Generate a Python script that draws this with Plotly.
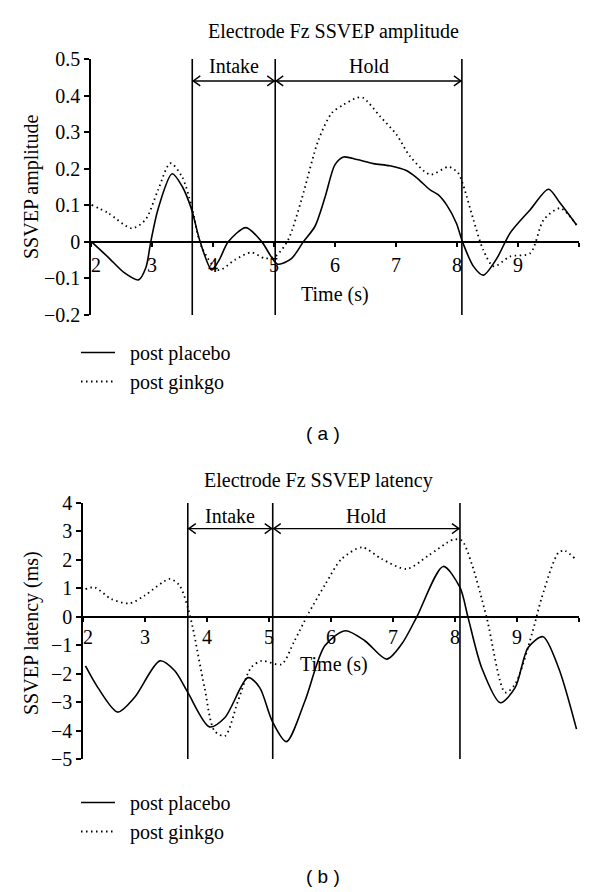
import plotly.graph_objects as go

# ---------------- data ----------------
# (a) SSVEP amplitude, electrode Fz
amp_placebo_t = [2.01, 2.30, 2.55, 2.78, 2.90, 2.98, 3.10, 3.33, 3.50, 3.65, 3.79, 3.98, 4.10, 4.25, 4.54,
                 4.80, 5.06, 5.29, 5.48, 5.67, 5.84, 6.00, 6.14, 6.36, 6.63, 6.90, 7.17, 7.34, 7.56, 7.69,
                 7.83, 7.99, 8.09, 8.27, 8.43, 8.65, 8.87, 9.20, 9.50, 9.69, 9.96]
amp_placebo_v = [0.000, -0.045, -0.085, -0.104, -0.070, 0.000, 0.090, 0.186, 0.150, 0.088, 0.000, -0.077,
                 -0.050, 0.000, 0.039, 0.000, -0.061, -0.045, 0.000, 0.042, 0.124, 0.211, 0.232, 0.225,
                 0.214, 0.208, 0.195, 0.175, 0.142, 0.129, 0.101, 0.051, 0.000, -0.067, -0.091, -0.046,
                 0.024, 0.088, 0.144, 0.106, 0.046]
amp_ginkgo_t = [2.01, 2.28, 2.67, 2.89, 3.10, 3.30, 3.49, 3.65, 3.81, 4.09, 4.36, 4.63, 4.85, 5.02, 5.23,
                5.45, 5.73, 5.95, 6.14, 6.36, 6.46, 6.74, 7.01, 7.23, 7.56, 7.86, 8.02, 8.10, 8.27, 8.43,
                8.60, 8.87, 9.20, 9.42, 9.69, 9.96]
amp_ginkgo_v = [0.101, 0.079, 0.037, 0.060, 0.142, 0.215, 0.179, 0.097, -0.013, -0.077, -0.049, -0.029,
                -0.045, -0.040, 0.005, 0.115, 0.279, 0.353, 0.375, 0.394, 0.394, 0.343, 0.293, 0.234,
                0.184, 0.205, 0.188, 0.156, 0.060, -0.022, -0.067, -0.040, -0.031, 0.060, 0.092, 0.046]

# (b) SSVEP latency (ms), electrode Fz
lat_placebo_t = [2.04, 2.24, 2.56, 2.83, 3.24, 3.48, 3.69, 4.04, 4.29, 4.66, 4.85, 5.05, 5.28, 5.58, 5.90,
                 6.23, 6.55, 6.90, 7.14, 7.38, 7.81, 8.08, 8.21, 8.43, 8.73, 8.97, 9.18, 9.42, 9.67, 9.96]
lat_placebo_v = [-1.73, -2.49, -3.35, -2.84, -1.55, -1.90, -2.66, -3.87, -3.54, -2.14, -2.49, -3.66, -4.39,
                 -2.96, -1.02, -0.49, -0.85, -1.49, -0.96, -0.02, 1.77, 1.03, -0.02, -1.79, -3.02, -2.49,
                 -1.08, -0.70, -1.79, -3.95]
lat_ginkgo_t = [2.04, 2.19, 2.46, 2.75, 2.99, 3.40, 3.56, 3.69, 3.77, 3.96, 4.12, 4.29, 4.50, 4.71, 4.88,
                5.20, 5.41, 5.63, 5.91, 6.17, 6.50, 6.82, 7.22, 7.57, 7.97, 8.11, 8.27, 8.51, 8.81, 8.97,
                9.24, 9.40, 9.67, 9.77, 9.94]
lat_ginkgo_v = [0.97, 1.03, 0.62, 0.47, 0.74, 1.33, 1.09, 0.33, -0.38, -2.49, -4.01, -4.19, -2.96, -1.79,
                -1.55, -1.67, -0.85, 0.09, 1.15, 2.03, 2.44, 2.03, 1.68, 2.15, 2.71, 2.68, 1.86, -0.02,
                -2.66, -2.37, -0.61, 0.68, 2.26, 2.32, 2.03]

x_ticks = [2, 3, 4, 5, 6, 7, 8, 9, 10]
x_tick_labels = ["2", "3", "4", "5", "6", "7", "8", "9", ""]
amp_y_ticks = [-0.2, -0.1, 0, 0.1, 0.2, 0.3, 0.4, 0.5]
lat_y_ticks = [-5, -4, -3, -2, -1, 0, 1, 2, 3, 4]

boundaries_a = [3.66, 5.02, 8.08]
boundaries_b = [3.69, 5.06, 8.08]
phase_labels = ["Intake", "Hold"]
arrow_level_a, label_level_a = 0.44, 0.482
arrow_level_b, label_level_b = 3.1, 3.56

series_names = ["post placebo", "post ginkgo"]

# ---------------- figure ----------------
W, H = 600, 892
SERIF = "Liberation Serif, Times New Roman, serif"
FS = 20
LEGEND_PAD = "\u00a0\u00a0"   # small gap between legend sample and label

def px_x(p):
    return p / W

def px_y(p):
    return 1 - p / H

fig = go.Figure()

solid = dict(color="black", width=1.6, shape="spline", smoothing=0.8)
dotted = dict(color="black", width=1.8, dash="1.5px,3.5px", shape="spline", smoothing=0.8)

fig.add_trace(go.Scatter(x=amp_placebo_t, y=amp_placebo_v, mode="lines", line=solid,
                         name=LEGEND_PAD + series_names[0], xaxis="x", yaxis="y", legend="legend"))
fig.add_trace(go.Scatter(x=amp_ginkgo_t, y=amp_ginkgo_v, mode="lines", line=dotted,
                         name=LEGEND_PAD + series_names[1], xaxis="x", yaxis="y", legend="legend"))
fig.add_trace(go.Scatter(x=lat_placebo_t, y=lat_placebo_v, mode="lines", line=solid,
                         name=LEGEND_PAD + series_names[0], xaxis="x2", yaxis="y2", legend="legend2"))
fig.add_trace(go.Scatter(x=lat_ginkgo_t, y=lat_ginkgo_v, mode="lines", line=dotted,
                         name=LEGEND_PAD + series_names[1], xaxis="x2", yaxis="y2", legend="legend2"))

# domains (pixel boxes of the two plots)
ya_dom = [px_y(315), px_y(59)]
yb_dom = [px_y(759), px_y(503)]
xa_dom = [px_x(91), px_x(579)]
xb_dom = [px_x(83), px_x(579)]

amp_range = [-0.2, 0.5]
lat_range = [-5, 4]

def zero_pos(dom, rng):
    return dom[0] + (0 - rng[0]) / (rng[1] - rng[0]) * (dom[1] - dom[0])

xaxis_common = dict(range=[2, 10], tickmode="array", tickvals=x_ticks, showticklabels=False,
                    ticks="outside", ticklen=4, tickwidth=1.5, tickcolor="black",
                    showline=True, linecolor="black", linewidth=1.6, showgrid=False,
                    zeroline=False, anchor="free", automargin=False)
yaxis_common = dict(ticks="outside", ticklen=5, tickwidth=1.5, tickcolor="black",
                    showline=True, linecolor="black", linewidth=1.6, showgrid=False,
                    zeroline=False, tickfont=dict(family=SERIF, size=FS, color="black"),
                    tickmode="array", automargin=False)

def fmt(v):
    return ("\u2212" if v < 0 else "") + f"{abs(v):g}"

legend_style = dict(xanchor="left", yanchor="top", itemwidth=34,
                    font=dict(family=SERIF, size=FS, color="black"), bgcolor="rgba(0,0,0,0)",
                    tracegroupgap=0)

fig.update_layout(
    template="none",
    width=W, height=H, margin=dict(l=0, r=0, t=0, b=0, pad=0, autoexpand=False),
    paper_bgcolor="white", plot_bgcolor="white",
    xaxis=dict(domain=xa_dom, position=zero_pos(ya_dom, amp_range), **xaxis_common),
    yaxis=dict(domain=ya_dom, range=amp_range, tickvals=amp_y_ticks,
               ticktext=[fmt(v) for v in amp_y_ticks], anchor="x", **yaxis_common),
    xaxis2=dict(domain=xb_dom, position=zero_pos(yb_dom, lat_range), **xaxis_common),
    yaxis2=dict(domain=yb_dom, range=lat_range, tickvals=lat_y_ticks,
                ticktext=[fmt(v) for v in lat_y_ticks], anchor="x2", **yaxis_common),
    legend=dict(x=px_x(76), y=px_y(333), **legend_style),
    legend2=dict(x=px_x(76), y=px_y(783), **legend_style),
    showlegend=True,
)

shapes = []
annotations = []

def add_panel(xr, yr, bounds, rng, arrow_level, label_level, tick_shift, title, title_px, ytitle,
              ytitle_px, xtitle_x, xtitle_y):
    for b in bounds:
        shapes.append(dict(type="line", xref=xr, yref=yr, x0=b, x1=b, y0=rng[0], y1=rng[1],
                           line=dict(color="black", width=1.6)))
    for i in range(len(bounds) - 1):
        a, c = bounds[i], bounds[i + 1]
        shapes.append(dict(type="line", xref=xr, yref=yr, x0=a, x1=c, y0=arrow_level, y1=arrow_level,
                           line=dict(color="black", width=1.4)))
        for xa, path in [(a, "M 8,5 L 1,0 L 8,-5"), (c, "M -8,5 L -1,0 L -8,-5")]:
            shapes.append(dict(type="path", xref=xr, yref=yr, xsizemode="pixel", ysizemode="pixel",
                               xanchor=xa, yanchor=arrow_level, path=path,
                               line=dict(color="black", width=1.4)))
        annotations.append(dict(xref=xr, yref=yr, x=(a + c) / 2, y=label_level, text=phase_labels[i],
                                showarrow=False, font=dict(family=SERIF, size=FS, color="black"),
                                xanchor="center", yanchor="middle"))
    for t, lab in zip(x_ticks, x_tick_labels):
        if not lab:
            continue
        annotations.append(dict(xref=xr, yref=yr, x=t, y=0, text=lab, showarrow=False,
                                yshift=-tick_shift, xshift=5 if t == x_ticks[0] else 0,
                                font=dict(family=SERIF, size=FS, color="black"),
                                xanchor="center", yanchor="middle"))
    annotations.append(dict(xref=xr, yref=yr, x=xtitle_x, y=xtitle_y, text="Time (s)", showarrow=False,
                            font=dict(family=SERIF, size=FS, color="black"),
                            xanchor="center", yanchor="middle"))
    annotations.append(dict(xref="paper", yref="paper", x=px_x(title_px[0]), y=px_y(title_px[1]),
                            text=title, showarrow=False, font=dict(family=SERIF, size=FS, color="black"),
                            xanchor="center", yanchor="middle"))
    annotations.append(dict(xref="paper", yref="paper", x=px_x(ytitle_px[0]), y=px_y(ytitle_px[1]),
                            text=ytitle, showarrow=False, textangle=-90,
                            font=dict(family=SERIF, size=FS, color="black"),
                            xanchor="center", yanchor="middle"))

add_panel("x", "y", boundaries_a, amp_range, arrow_level_a, label_level_a, 23,
          "Electrode Fz SSVEP amplitude", (333, 31), "SSVEP amplitude", (31, 187), 6.0, -0.145)
add_panel("x2", "y2", boundaries_b, lat_range, arrow_level_b, label_level_b, 20,
          "Electrode Fz SSVEP latency", (318, 480), "SSVEP latency (ms)", (31, 633), 6.05, -1.69)

for lab, ypx in [("( a )", 433), ("( b )", 876)]:
    annotations.append(dict(xref="paper", yref="paper", x=px_x(323), y=px_y(ypx), text=lab,
                            showarrow=False, xanchor="center", yanchor="middle",
                            font=dict(family="Liberation Sans, Arial, sans-serif", size=19,
                                      color="black")))

fig.update_layout(shapes=shapes, annotations=annotations)
fig.write_html("out.html", config={"displayModeBar": False},
               post_script="document.body.style.margin='0';")
